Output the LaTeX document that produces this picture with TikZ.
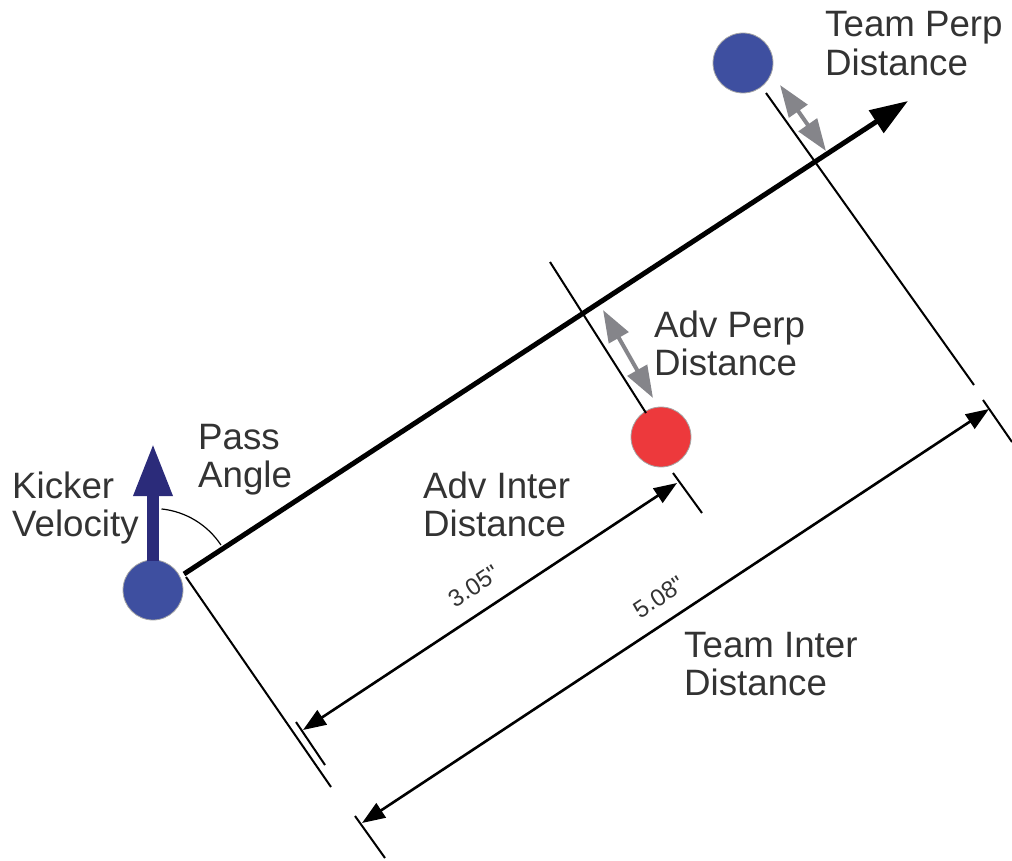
\documentclass[tikz,border=0pt]{standalone}
\usepackage{fontspec}
\setmainfont{Liberation Sans}
% plain family without TeX ligatures, so that " stays a straight quote
\newfontfamily\dimfont{Liberation Sans}
\usetikzlibrary{arrows.meta}

\definecolor{ink}{RGB}{51,51,51}
\definecolor{teamblue}{RGB}{62,79,160}
\definecolor{advred}{RGB}{237,57,60}
\definecolor{velnavy}{RGB}{43,43,122}
\definecolor{gaparrow}{RGB}{133,133,138}

% two stacked lines whose baseline is that of the first line
\newcommand{\twoline}[2]{\vtop{\hbox{#1}\hbox{#2}}}

\begin{document}
\begin{tikzpicture}[x=1pt,y=-1pt,
  caption/.style={anchor=base west, inner sep=0pt, text=ink,
    font=\fontsize{36.7}{38.5}\selectfont},
  dimtext/.style={inner sep=0pt, text=ink, rotate=33.4,
    font=\dimfont\fontsize{24}{28}\selectfont},
  player/.style={circle, minimum size=60pt, inner sep=0pt,
    draw=gray!70, line width=0.8pt},
  pass/.style={line width=5pt, -{Triangle[length=38pt,width=26pt]}},
  velocity/.style={velnavy, line width=12pt,
    -{Triangle[length=53pt,width=36pt]}},
  perp/.style={line width=2pt},
  dimline/.style={line width=2.6pt,
    {Triangle[length=23pt,width=17pt]}-{Triangle[length=23pt,width=17pt]}},
  gap/.style={gaparrow, line width=4pt,
    {Triangle[length=32pt,width=22pt]}-{Triangle[length=32pt,width=22pt]}},
  anglearc/.style={line width=1.2pt}]

\useasboundingbox (0,0) rectangle (1012,861);

% players
\node[player, fill=teamblue] (kicker) at (153,590) {};
\node[player, fill=advred]   (adv)    at (661,437) {};
\node[player, fill=teamblue] (mate)   at (743,63)  {};

% key points of the construction
\coordinate (passstart) at (184,574);
\coordinate (passtip)   at (908,101);
\coordinate (velstart)  at (153,561);
\coordinate (veltip)    at (153,443);

\coordinate (kperpA) at (186,577);
\coordinate (kperpB) at (331,787);
\coordinate (aperpA) at (550,262);
\coordinate (aperpB) at (646,413);
\coordinate (tperpA) at (766,93);
\coordinate (tperpB) at (974,385);

\coordinate (advtickA)  at (673,473);
\coordinate (advtickB)  at (702,513);
\coordinate (ktickA)    at (296,722);
\coordinate (ktickB)    at (325,765);
\coordinate (teamtickA) at (983,400);
\coordinate (teamtickB) at (1012,442);
\coordinate (btickA)    at (355,816);
\coordinate (btickB)    at (385,858);

\coordinate (advdimA)  at (303,730);
\coordinate (advdimB)  at (677,483);
\coordinate (teamdimA) at (362,823);
\coordinate (teamdimB) at (989,409);

\coordinate (agapA) at (603,310);
\coordinate (agapB) at (653,398);
\coordinate (tgapA) at (780,85);
\coordinate (tgapB) at (826,151);

% perpendiculars to the pass line
\draw[perp] (kperpA) -- (kperpB);
\draw[perp] (aperpA) -- (aperpB);
\draw[perp] (tperpA) -- (tperpB);

% extension ticks of the dimension lines
\draw[perp] (advtickA) -- (advtickB);
\draw[perp] (ktickA) -- (ktickB);
\draw[perp] (teamtickA) -- (teamtickB);
\draw[perp] (btickA) -- (btickB);

% pass direction and kicker velocity
\draw[pass] (passstart) -- (passtip);
\draw[velocity] (velstart) -- (veltip);

% pass angle
\draw[anglearc] ([shift={(-84:81.5)}]kicker.center)
  arc[start angle=-84, end angle=-33.5, radius=81.5];

% distances
\draw[dimline] (advdimA) -- (advdimB);
\draw[dimline] (teamdimA) -- (teamdimB);
\draw[gap] (agapA) -- (agapB);
\draw[gap] (tgapA) -- (tgapB);

\node[dimtext] (advval)  at (474,586) {3.05"};
\node[dimtext] (teamval) at (659,597) {5.08"};

% captions
\node[caption] (kickcap) at (12,498)  {\twoline{Kicker}{Velocity}};
\node[caption] (passcap) at (198,449) {\twoline{Pass}{Angle}};
\node[caption] (ainter)  at (423,498) {\twoline{Adv Inter}{Distance}};
\node[caption] (aperp)   at (654,337) {\twoline{Adv Perp}{Distance}};
\node[caption] (tperp)   at (825,37)  {\twoline{Team Perp}{Distance}};
\node[caption] (tinter)  at (684,657) {\twoline{Team Inter}{Distance}};

\end{tikzpicture}
\end{document}
